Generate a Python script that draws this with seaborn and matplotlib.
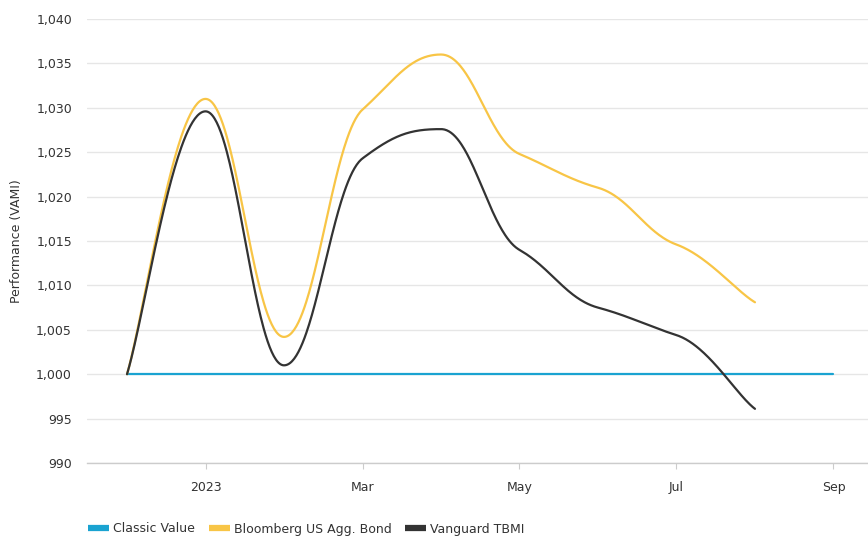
import numpy as np
import pandas as pd
import matplotlib
matplotlib.use("Agg")
import matplotlib.pyplot as plt
import seaborn as sns
from matplotlib.lines import Line2D
from matplotlib.ticker import FuncFormatter

# ---- data (monthly, Dec 2022 .. Sep 2023) ----
months = ["2022-12", "2023-01", "2023-02", "2023-03", "2023-04", "2023-05",
          "2023-06", "2023-07", "2023-08", "2023-09"]
classic_value = [1000, 1000, 1000, 1000, 1000, 1000, 1000, 1000, 1000, 1000]
bloomberg_agg = [1000, 1031.0, 1004.2, 1029.8, 1036.0, 1024.8, 1021.0, 1014.6, 1008.1]
vanguard_tbmi = [1000, 1029.6, 1001.0, 1024.3, 1027.6, 1014.0, 1007.5, 1004.4, 996.1]
series_names = ["Classic Value", "Bloomberg US Agg. Bond", "Vanguard TBMI"]
series_values = [classic_value, bloomberg_agg, vanguard_tbmi]
colors = ["#1aa3d1", "#f8c546", "#333333"]
tick_months = [1, 3, 5, 7, 9]
tick_labels = ["2023", "Mar", "May", "Jul", "Sep"]
y_ticks = list(range(990, 1041, 5))

TENSION = 0.5   # interior tangent = TENSION * chord slope
ARM = 0.4       # bezier arm length as a fraction of the segment width


def smooth_curve(xs, ys, n=80):
    """Smoothed line through the points (cubic Beziers, reduced tangents)."""
    xs = np.asarray(xs, float)
    ys = np.asarray(ys, float)
    m = len(xs)
    slope = np.zeros(m)
    for i in range(m):
        if i == 0:
            slope[i] = (ys[1] - ys[0]) / (xs[1] - xs[0])
        elif i == m - 1:
            slope[i] = 0.8 * (ys[i] - ys[i - 1]) / (xs[i] - xs[i - 1])
        else:
            if (ys[i] - ys[i - 1]) * (ys[i + 1] - ys[i]) <= 0:
                slope[i] = 0.0
            else:
                slope[i] = TENSION * (ys[i + 1] - ys[i - 1]) / (xs[i + 1] - xs[i - 1])
    t = np.linspace(0, 1, n)[:, None]
    outx, outy = [xs[0]], [ys[0]]
    for i in range(m - 1):
        h = xs[i + 1] - xs[i]
        a0 = 0.0 if i == 0 else ARM
        a1 = 0.0 if i + 1 == m - 1 else ARM
        a0 = ARM * 0.6 if i == 0 else a0
        a1 = ARM * 0.6 if i + 1 == m - 1 else a1
        p0 = np.array([xs[i], ys[i]])
        p3 = np.array([xs[i + 1], ys[i + 1]])
        p1 = p0 + np.array([a0 * h, a0 * h * slope[i]])
        p2 = p3 - np.array([a1 * h, a1 * h * slope[i + 1]])
        b = (1 - t) ** 3 * p0 + 3 * (1 - t) ** 2 * t * p1 + 3 * (1 - t) * t ** 2 * p2 + t ** 3 * p3
        outx.extend(b[1:, 0])
        outy.extend(b[1:, 1])
    return np.array(outx), np.array(outy)


sns.set_theme(style="white")
plt.rcParams["font.family"] = ["DejaVu Sans"]

fig = plt.figure(figsize=(8.68, 5.36), dpi=100)
ax = fig.add_axes([87 / 868, 73 / 536, 781 / 868, 444 / 536])

frames = []
for name, vals in zip(series_names, series_values):
    sx, sy = smooth_curve(np.arange(len(vals)), vals)
    frames.append(pd.DataFrame({"x": sx, "y": sy, "series": name}))
df = pd.concat(frames, ignore_index=True)

for k, name in enumerate(series_names):
    sub = df[df["series"] == name]
    sns.lineplot(data=sub, x="x", y="y", color=colors[k], linewidth=1.6,
                 sort=False, estimator=None, ax=ax, zorder=3 + k,
                 solid_capstyle="round")

ax.set_xlim(-0.51, 9.44)
ax.set_ylim(990, 1040)
ax.set_yticks(y_ticks)
ax.yaxis.set_major_formatter(FuncFormatter(lambda v, p: f"{int(v):,}"))
ax.set_xticks(tick_months)
ax.set_xticklabels(tick_labels)

ax.grid(axis="y", color="#e6e6e6", linewidth=1.0)
ax.grid(axis="x", visible=False)
for sp in ["top", "right", "left"]:
    ax.spines[sp].set_visible(False)
ax.spines["bottom"].set_color("#cccccc")
ax.spines["bottom"].set_linewidth(1.0)
ax.spines["bottom"].set_zorder(2)

ax.tick_params(axis="x", bottom=True, length=6 * 0.72, width=0.8, color="#cccccc",
               pad=12 * 0.72, labelsize=9, labelcolor="#333333")
ax.tick_params(axis="y", left=False, length=0, pad=15 * 0.72, labelsize=9,
               labelcolor="#333333")
ax.set_xlabel("")
ax.set_ylabel("Performance (VAMI)", fontsize=9, color="#333333")
ax.yaxis.set_label_coords(-(87 - 23) / 781, 0.5)

handles = [Line2D([0], [0], color=c, linewidth=4.5, solid_capstyle="butt") for c in colors]
fig.legend(handles, series_names, loc="center left", bbox_to_anchor=(88 / 868, 7 / 536),
           ncol=3, frameon=False, fontsize=9, handlelength=1.67, handletextpad=0.33,
           columnspacing=1.1, borderpad=0, borderaxespad=0, labelcolor="#333333")

fig.savefig("out.png", dpi=100)
